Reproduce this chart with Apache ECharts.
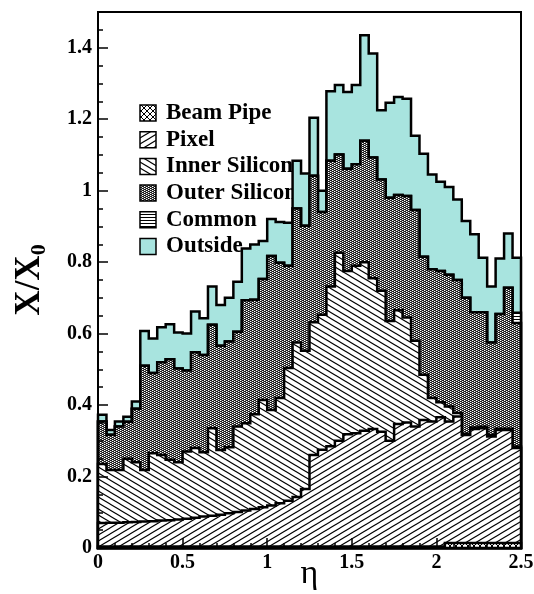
<!DOCTYPE html>
<html><head><meta charset="utf-8">
<script src="https://cdn.jsdelivr.net/npm/echarts@6/dist/echarts.min.js"></script>
<style>html,body{margin:0;padding:0;background:#fff}#c{width:534px;height:594px}</style>
</head><body><div id="c"></div>
<script>
// ---- data: bin edges in eta and cumulative stack tops (X/X0) ----
const etaEdges = [0,0.05,0.1,0.15,0.2,0.25,0.3,0.35,0.4,0.45,0.5,0.55,0.6,0.65,0.7,0.75,0.8,0.85,0.9,0.95,
  1,1.05,1.1,1.15,1.2,1.25,1.3,1.35,1.4,1.45,1.5,1.55,1.6,1.65,1.7,1.75,1.8,1.85,1.9,1.95,
  2,2.05,2.1,2.15,2.2,2.25,2.3,2.35,2.4,2.45,2.5];
const beamPipeTop = [0.004,0.004,0.004,0.004,0.004,0.004,0.004,0.004,0.004,0.004,
  0.004,0.004,0.004,0.004,0.004,0.004,0.004,0.004,0.004,0.004,
  0.004,0.004,0.004,0.004,0.004,0.004,0.004,0.004,0.004,0.004,
  0.004,0.004,0.004,0.004,0.004,0.004,0.004,0.004,0.004,0.004,
  0.004,0.014,0.014,0.014,0.014,0.014,0.014,0.014,0.014,0.014];
const pixelTop = [0.070,0.071,0.071,0.072,0.073,0.074,0.075,0.077,0.078,0.080,
  0.082,0.085,0.088,0.090,0.093,0.097,0.101,0.105,0.109,0.114,
  0.119,0.125,0.132,0.143,0.165,0.260,0.275,0.285,0.300,0.318,
  0.321,0.328,0.333,0.325,0.300,0.347,0.351,0.340,0.358,0.354,
  0.366,0.354,0.368,0.316,0.333,0.335,0.312,0.330,0.330,0.280];
const innerSiliconTop = [0.235,0.218,0.218,0.250,0.240,0.218,0.265,0.260,0.247,0.240,
  0.270,0.280,0.268,0.335,0.274,0.282,0.340,0.349,0.374,0.414,
  0.386,0.420,0.504,0.575,0.552,0.632,0.653,0.732,0.826,0.775,
  0.790,0.800,0.755,0.720,0.635,0.665,0.645,0.580,0.485,0.420,
  0.408,0.396,0.378,0.320,0.337,0.339,0.316,0.334,0.334,0.284];
const outerSiliconTop = [0.354,0.317,0.340,0.353,0.390,0.510,0.490,0.520,0.528,0.502,
  0.497,0.548,0.540,0.625,0.566,0.578,0.605,0.693,0.695,0.753,
  0.817,0.798,0.790,0.950,0.902,1.042,0.940,1.084,1.101,1.061,
  1.074,1.140,1.093,1.031,0.980,0.988,0.985,0.946,0.815,0.780,
  0.775,0.765,0.750,0.700,0.660,0.660,0.575,0.655,0.728,0.630];
const commonTop = [0.354,0.317,0.340,0.353,0.390,0.510,0.490,0.520,0.528,0.502,
  0.497,0.548,0.540,0.625,0.566,0.578,0.605,0.693,0.695,0.753,
  0.817,0.798,0.790,0.950,0.902,1.042,0.940,1.084,1.101,1.061,
  1.074,1.140,1.093,1.031,0.980,0.988,0.985,0.946,0.815,0.780,
  0.775,0.765,0.750,0.700,0.660,0.660,0.575,0.655,0.728,0.658];
const outsideTop = [0.373,0.330,0.354,0.367,0.410,0.607,0.586,0.618,0.626,0.603,
  0.600,0.662,0.643,0.732,0.680,0.700,0.745,0.838,0.849,0.859,
  0.921,0.912,0.910,1.084,1.048,1.204,1.000,1.278,1.296,1.276,
  1.296,1.435,1.384,1.225,1.246,1.262,1.257,1.154,1.103,1.045,
  1.025,1.010,0.975,0.915,0.878,0.812,0.732,0.810,0.880,0.812];
const legendNames = ['Beam Pipe','Pixel','Inner Silicon','Outer Silicon','Common','Outside'];
const yTicks = [0,0.2,0.4,0.6,0.8,1,1.2,1.4];
const xTicks = [0,0.5,1,1.5,2,2.5];

// ---- fill patterns ----
function tile(w,h,draw){const c=document.createElement('canvas');c.width=w;c.height=h;const g=c.getContext('2d');g.fillStyle='#fff';g.fillRect(0,0,w,h);draw(g,w,h);return {image:c,repeat:'repeat'};}
function lines(g,w,h,x0,y0,x1,y1,lw){g.strokeStyle='#000';g.lineWidth=lw;for(const dx of [-w,0,w])for(const dy of [-h,0,h]){g.beginPath();g.moveTo(x0+dx,y0+dy);g.lineTo(x1+dx,y1+dy);g.stroke();}}
const patPixel = tile(10,6,(g,w,h)=>lines(g,w,h,0,h,w,0,1.1));
const patInner = tile(10,6,(g,w,h)=>lines(g,w,h,0,0,w,h,1.1));
const patBeam = tile(6,6,(g,w,h)=>{lines(g,w,h,0,h,w,0,1);lines(g,w,h,0,0,w,h,1);});
const patCommon = tile(4,3,(g,w,h)=>{g.fillStyle='#000';g.fillRect(0,1,w,1);});
const patOuter = tile(4,2,(g,w,h)=>{g.fillStyle='#1a1a1a';g.fillRect(0,0,w,h);g.fillStyle='#fff';g.fillRect(0,0,1,1);g.fillRect(2,1,1,1);g.fillStyle='#777';g.fillRect(1,0,1,1);g.fillRect(3,1,1,1);});
const cyan = '#a8e4df';

const layers = [
  {name:'Outside', tops:outsideTop, fill:cyan},
  {name:'Common', tops:commonTop, fill:patCommon},
  {name:'Outer Silicon', tops:outerSiliconTop, fill:patOuter},
  {name:'Inner Silicon', tops:innerSiliconTop, fill:patInner},
  {name:'Pixel', tops:pixelTop, fill:patPixel},
  {name:'Beam Pipe', tops:beamPipeTop, fill:patBeam}
];

function stepSeries(layer){
  return {
    type:'custom', name:layer.name, coordinateSystem:'cartesian2d', silent:true, zlevel:1, z:3,
    data:[[0,0]],
    renderItem:function(params, api){
      const pts=[api.coord([etaEdges[0],0])];
      for(let i=0;i<layer.tops.length;i++){
        pts.push(api.coord([etaEdges[i],layer.tops[i]]));
        pts.push(api.coord([etaEdges[i+1],layer.tops[i]]));
      }
      pts.push(api.coord([etaEdges[etaEdges.length-1],0]));
      return {type:'polygon', shape:{points:pts}, style:{fill:layer.fill, stroke:'#000', lineWidth:2.5, lineJoin:'miter'}};
    }
  };
}

const serif = '"Liberation Serif", "DejaVu Serif", serif';
const legendFill = {'Beam Pipe':patBeam,'Pixel':patPixel,'Inner Silicon':patInner,'Outer Silicon':patOuter,'Common':patCommon,'Outside':cyan};
const legendEls = [];
legendNames.forEach((n,i)=>{
  const cy = 113 + i*26.7;
  legendEls.push({type:'rect', zlevel:0, z:1, shape:{x:140,y:cy-8,width:16,height:16}, style:{fill:legendFill[n], stroke:'#000', lineWidth:1.5}});
  legendEls.push({type:'text', zlevel:0, z:1, x:166, y:cy, style:{text:n, font:'bold 23px '+serif, fill:'#000', verticalAlign:'middle', align:'left'}});
});

const chart = echarts.init(document.getElementById('c'), null, {renderer:'canvas'});
chart.setOption({
  animation:false,
  backgroundColor:'#fff',
  grid:{left:98,right:13,top:12,bottom:46,outerBoundsMode:'none',containLabel:false,show:true,borderColor:'#000',borderWidth:2,zlevel:1,z:10,backgroundColor:'transparent'},
  xAxis:{type:'value',min:0,max:2.5,interval:0.5,zlevel:1,z:10,
    name:'η',nameLocation:'middle',nameGap:26,nameMoveOverlap:false,nameTextStyle:{fontFamily:serif,fontSize:34,color:'#000',verticalAlign:'middle'},
    axisLine:{lineStyle:{color:'#000',width:2}},
    axisTick:{inside:true,length:10,lineStyle:{color:'#000',width:1.5}},
    minorTick:{show:true,splitNumber:5,length:5,lineStyle:{color:'#000',width:1.5}},
    splitLine:{show:false},
    axisLabel:{fontFamily:serif,fontWeight:'bold',fontSize:20,color:'#000',margin:5,showMinLabel:true,showMaxLabel:true,
      formatter:v=>xTicks.some(t=>Math.abs(t-v)<1e-6)?String(Number(v.toFixed(2))):''}
  },
  yAxis:[
    {type:'value',min:0,max:1.5,interval:0.2,zlevel:1,z:10,
      name:'{a|X/X}{b|0}',nameLocation:'middle',nameRotate:90,nameGap:48,nameMoveOverlap:false,
      nameTextStyle:{rich:{a:{fontFamily:serif,fontWeight:'bold',fontSize:35,color:'#000',lineHeight:40},
                           b:{fontFamily:serif,fontWeight:'bold',fontSize:22,color:'#000',lineHeight:40,verticalAlign:'bottom'}}},
      axisLine:{lineStyle:{color:'#000',width:2}},
      axisTick:{inside:true,length:10,lineStyle:{color:'#000',width:1.5}},
      splitLine:{show:false},
      axisLabel:{fontFamily:serif,fontWeight:'bold',fontSize:20,color:'#000',margin:6,showMaxLabel:true,
        formatter:v=>yTicks.some(t=>Math.abs(t-v)<1e-6)?String(Number(v.toFixed(1))):''}
    },
    {type:'value',min:0,max:1.5,interval:0.05,zlevel:1,z:10,position:'left',
      axisLine:{show:false},axisLabel:{show:false},splitLine:{show:false},
      axisTick:{inside:true,length:5,lineStyle:{color:'#000',width:1.5}}
    }
  ],
  graphic:{elements:legendEls},
  series:layers.map(stepSeries)
});
</script></body></html>
